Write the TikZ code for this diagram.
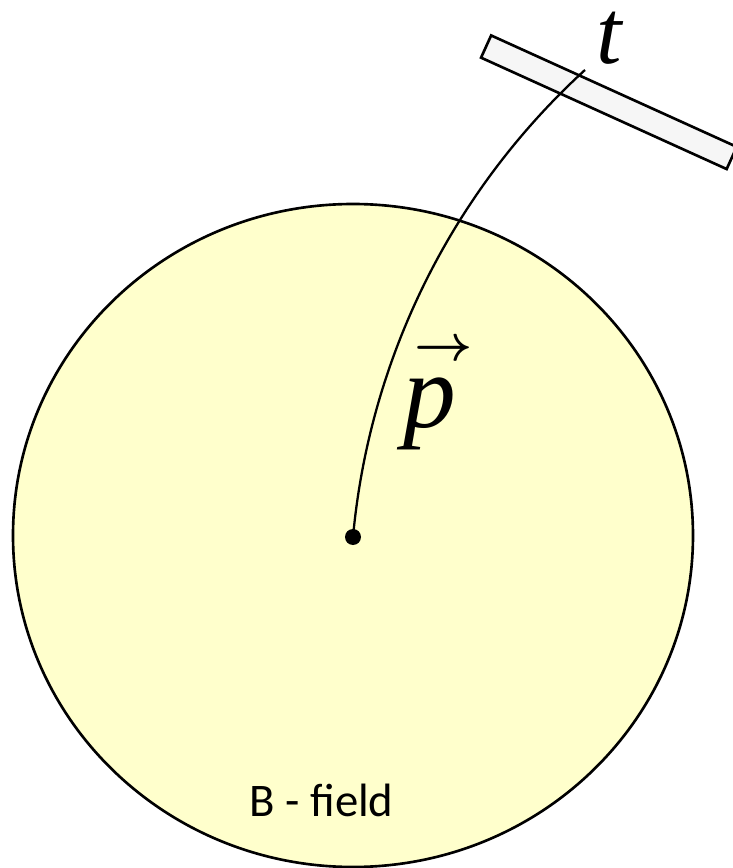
\documentclass[tikz,border=0pt]{standalone}
\usepackage{amsmath}
\usepackage{fontspec}
\setmainfont{Liberation Serif}
\newfontfamily\fieldfont{Carlito}
\definecolor{fieldyellow}{RGB}{255,255,204}
\definecolor{detgray}{RGB}{246,246,246}
\tikzset{
  field/.style={draw,line width=0.75pt,fill=fieldyellow},
  detector/.style={draw,line width=0.75pt,fill=detgray,inner sep=0pt,
    minimum width=2.697cm,minimum height=0.244cm},
  track/.style={line width=0.65pt}
}
\begin{document}
\begin{tikzpicture}

\clip (0,0) rectangle (7.33,8.68);

% Field region
\draw[field] (3.53,3.325) ellipse [x radius=3.40,y radius=3.315];
\node[font=\fieldfont\fontsize{13.3}{16}\selectfont] (fieldlabel) at (3.215,0.68) {B - field};

% Detector plane
\node[detector,rotate=-24.4] (plane) at (6.089,7.6575) {};
\node[font=\fontsize{26}{30}\selectfont,inner sep=0pt] (tlabel) at (6.10,8.30) {\textit{t}};

% Vertex and track
\fill (3.53,3.31) circle (0.08);
\coordinate (vertex) at (3.53,3.31);
\draw[track] (vertex) arc[start angle=174.74,end angle=132.43,radius=7.225] coordinate (trackend);
\node[font=\fontsize{30}{34}\selectfont,inner sep=0pt] (plabel) at (4.30,4.77)
  {$\overset{\kern0.25em\scriptscriptstyle\boldsymbol{\rightarrow}}{\mbox{\itshape p}}$};

\end{tikzpicture}
\end{document}
